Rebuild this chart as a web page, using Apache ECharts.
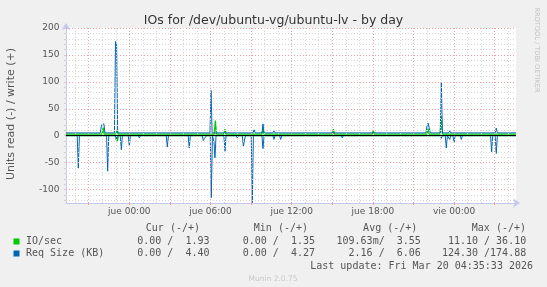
<!DOCTYPE html>
<html>
<head>
<meta charset="utf-8">
<script src="https://cdn.jsdelivr.net/npm/echarts@6/dist/echarts.min.js"></script>
<style>
html,body{margin:0;padding:0;background:#f0f0f0;}
#c{width:547px;height:287px;}
</style>
</head>
<body>
<div id="c"></div>
<script>
// ---- data (x = hours relative to jue 00:00) ----
const TITLE = 'IOs for /dev/ubuntu-vg/ubuntu-lv - by day';
const Y_NAME = 'Units read (-) / write (+)';
const X_MIN = -4.68, X_MAX = 28.58;
const Y_MIN = -125, Y_MAX = 200;
const xLabelHours = [0, 6, 12, 18, 24];
const xLabels = ['jue 00:00', 'jue 06:00', 'jue 12:00', 'jue 18:00', 'vie 00:00'];
const yTickValues = [-100, -50, 0, 50, 100, 150, 200];

const ioWrite = [
  [-4.68,3],[-2.98,3],[-2.90,5],[-2.82,3],
  [-2.02,3],[-1.94,15],[-1.86,3],
  [-0.99,3],[-0.91,11],[-0.83,3],
  [-0.04,3],[0.04,6],[0.12,3],
  [6.28,3],[6.36,28],[6.44,3],
  [6.99,3],[7.07,12],[7.15,3],
  [9.80,3],[9.88,12],[9.96,3],
  [11.97,3],[12.05,5],[12.13,3],
  [15.00,3],[15.08,12],[15.16,3],
  [17.02,3],[17.10,5],[17.18,3],
  [17.95,3],[18.03,10],[18.11,3],
  [22.00,3],[22.08,13],[22.16,3],
  [22.98,3],[23.06,36.1],[23.14,3],
  [28.58,3]
];
const ioRead = [
  [-4.68,0],[-0.97,0],[-0.89,-11.1],[-0.81,0],[28.58,0]
];
const sizeWrite = [
  [-4.68,5.2],
  [-2.15,5.2],[-2.05,20],[-1.96,23.5],[-1.88,22],[-1.80,5.2],
  [-1.10,5.2],[-1.02,174.88],[-0.94,170],[-0.86,5.2],
  [5.96,5.2],[6.04,84],[6.12,5.2],
  [9.14,5.2],[9.22,11],[9.30,5.2],
  [9.80,5.2],[9.88,22],[9.96,5.2],
  [10.61,5.2],[10.69,9],[10.77,5.2],
  [21.92,5.2],[22.00,18],[22.08,23.5],[22.17,22],[22.25,5.2],
  [22.98,5.2],[23.06,99.4],[23.14,5.2],
  [23.60,5.2],[23.68,9],[23.76,5.2],
  [27.04,5.2],[27.12,14],[27.20,5.2],
  [28.58,5.2]
];
const sizeRead = [
  [-4.68,0],
  [-3.85,0],[-3.77,-60],[-3.69,0],
  [-1.68,0],[-1.60,-66],[-1.52,0],
  [-1.04,0],[-0.96,-8],[-0.88,0],
  [-0.67,0],[-0.59,-26],[-0.51,0],
  [-0.08,0],[0.00,-18],[0.08,0],
  [0.66,0],[0.74,-4],[0.82,0],
  [2.73,0],[2.81,-21],[2.89,0],
  [4.35,0],[4.43,-23],[4.51,0],
  [5.39,0],[5.47,-9],[5.55,-5],[5.63,-5],[5.71,0],
  [5.98,0],[6.06,-115],[6.14,0],[6.25,-10],[6.33,-41],[6.41,0],
  [6.99,0],[7.07,-29],[7.15,0],
  [7.90,0],[7.98,-4],[8.06,0],
  [8.35,0],[8.43,-20],[8.51,-8],[8.59,0],
  [9.01,0],[9.09,-124.3],[9.17,0],
  [9.80,0],[9.88,-24],[9.96,0],
  [10.61,0],[10.69,-7],[10.77,0],
  [11.11,0],[11.19,-7],[11.27,0],
  [15.66,0],[15.74,-4],[15.82,0],
  [22.98,0],[23.06,-5],[23.14,0],
  [23.35,0],[23.43,-23],[23.51,0],
  [23.60,0],[23.68,-7],[23.76,0],
  [23.92,0],[24.00,-12],[24.08,0],
  [24.46,0],[24.54,-7],[24.62,0],
  [26.70,0],[26.78,-30],[26.86,0],
  [27.04,0],[27.12,-33],[27.20,0],
  [28.58,0]
];

const legendNames = ['IO/sec', 'Req Size (KB)'];
const legendColors = ['#00cc00', '#0066b3'];
const colHeaders = ['Cur (-/+)', 'Min (-/+)', 'Avg (-/+)', 'Max (-/+)'];
const curVals = ['0.00 /  1.93', '0.00 /  4.40'];
const minVals = ['0.00 /  1.35', '0.00 /  4.27'];
const avgVals = ['109.63m/  3.55', '2.16 /  6.06'];
const maxVals = ['11.10 / 36.10', '124.30 /174.88'];
const lastUpdate = 'Last update: Fri Mar 20 04:35:33 2026';
const footer = 'Munin 2.0.75';
const sideText = 'RRDTOOL / TOBI OETIKER';

// ---- grid lines ----
const gridLines = [];
for (let v = -120; v <= 200; v += 10) {
  const major = v % 50 === 0;
  gridLines.push({yAxis: v, lineStyle: {color: major ? '#f0a0a0' : '#d6d6d6', type: [1, 2], width: 1}});
}
for (let h = -4; h <= 28; h += 1) {
  const major = ((h % 3) + 3) % 3 === 0;
  gridLines.push({xAxis: h, lineStyle: {color: major ? '#f0a0a0' : '#d6d6d6', type: [1, 2], width: 1}});
}
const majorHours = [];
for (let h = -3; h <= 27; h += 3) majorHours.push(h);
const minorY = [];
for (let v = -120; v <= 200; v += 10) minorY.push(v);

const chart = echarts.init(document.getElementById('c'), null, {renderer: 'canvas'});
const mono = '"DejaVu Sans Mono", monospace';
const sans = '"DejaVu Sans", sans-serif';
const txtColor = '#555';

function T(text, x, y, opts) {
  return Object.assign({type: 'text', x: x, y: y, silent: true, style: Object.assign({
    text: text, fill: txtColor, fontSize: 10, fontFamily: mono,
    align: 'left', textAlign: 'left', verticalAlign: 'middle', textVerticalAlign: 'middle'
  }, opts && opts.style || {})}, opts && opts.el || {});
}

const graphics = [];
graphics.push(T(TITLE, 273.5, 21, {style: {fontFamily: sans, fontSize: 12.5, fill: '#333', align: 'center', textAlign: 'center'}}));
graphics.push(T(Y_NAME, 11, 114, {style: {fontFamily: sans, fontSize: 11, fill: txtColor, align: 'center', textAlign: 'center'}, el: {rotation: Math.PI / 2}}));
graphics.push(T(sideText, 537, 50, {style: {fontFamily: sans, fontSize: 6.6, fill: '#c0c0c0', align: 'center', textAlign: 'center'}, el: {rotation: -Math.PI / 2}}));
const headerRight = [200, 308, 417.3, 526];
colHeaders.forEach((h, i) => graphics.push(T(h, headerRight[i], 228.5, {style: {align: 'right', textAlign: 'right'}})));
const valRight = [209.5, 315, 420.8, 526.2];
const rowsY = [241.5, 253.5];
legendNames.forEach((n, r) => {
  graphics.push({type: 'rect', shape: {x: 13.5, y: rowsY[r] - 3, width: 6, height: 6}, style: {fill: legendColors[r]}, silent: true});
  graphics.push(T(n, 26, rowsY[r]));
  [curVals, minVals, avgVals, maxVals].forEach((arr, c) => {
    graphics.push(T(arr[r], valRight[c], rowsY[r], {style: {align: 'right', textAlign: 'right'}}));
  });
});
graphics.push(T(lastUpdate, 533, 266, {style: {align: 'right', textAlign: 'right'}}));
graphics.push(T(footer, 273, 279.5, {style: {fontFamily: sans, fontSize: 7.5, fill: '#c8c8c8', align: 'center', textAlign: 'center'}}));

const axisColor = '#c6c9ee';
function lineSeries(data, color, width) {
  return {type: 'line', data: data, showSymbol: false, symbol: 'none', animation: false,
    lineStyle: {color: color, width: width}, itemStyle: {color: color}, emphasis: {disabled: true}, silent: true, z: 3};
}

chart.setOption({
  backgroundColor: '#f0f0f0',
  animation: false,
  grid: {left: 66, top: 28, width: 450, height: 175, show: true, backgroundColor: '#ffffff', borderWidth: 0},
  graphic: {elements: graphics},
  xAxis: {
    type: 'value', min: X_MIN, max: X_MAX,
    splitLine: {show: false},
    axisLine: {show: true, onZero: false, lineStyle: {color: axisColor, width: 1}, symbol: ['none', 'arrow'], symbolSize: [7, 7], symbolOffset: [0, 4]},
    axisTick: {show: true, customValues: majorHours, length: 2, lineStyle: {color: '#f0a0a0'}},
    axisLabel: {customValues: xLabelHours, margin: 4, fontSize: 9, fontFamily: sans, color: txtColor,
      formatter: v => { const i = xLabelHours.indexOf(Math.round(v)); return i >= 0 ? xLabels[i] : ''; }}
  },
  yAxis: {
    type: 'value', min: Y_MIN, max: Y_MAX,
    splitLine: {show: false},
    axisLine: {show: true, onZero: false, lineStyle: {color: axisColor, width: 1}, symbol: ['none', 'arrow'], symbolSize: [7, 7], symbolOffset: [0, 5]},
    axisTick: {show: true, customValues: minorY, length: 2, lineStyle: {color: '#d0d0d0'}},
    axisLabel: {customValues: yTickValues, margin: 6.5, fontSize: 9, fontFamily: sans, color: txtColor}
  },
  series: [
    {type: 'line', data: [[X_MIN, -1000]], showSymbol: false, silent: true, z: 1, lineStyle: {opacity: 0},
      markLine: {silent: true, symbol: ['none', 'none'], label: {show: false}, animation: false, data: gridLines}},
    lineSeries(ioRead, '#00cc00', 1.3),
    lineSeries(ioWrite, '#00cc00', 1.3),
    lineSeries(sizeRead, '#0066b3', 1),
    lineSeries(sizeWrite, '#0066b3', 1),
    {type: 'line', data: [[X_MIN, -1000]], showSymbol: false, silent: true, z: 5, lineStyle: {opacity: 0},
      markLine: {silent: true, symbol: ['none', 'none'], label: {show: false}, animation: false,
        data: [{yAxis: 0, lineStyle: {color: '#000', width: 1, type: 'solid'}}]}}
  ]
});
</script>
</body>
</html>
